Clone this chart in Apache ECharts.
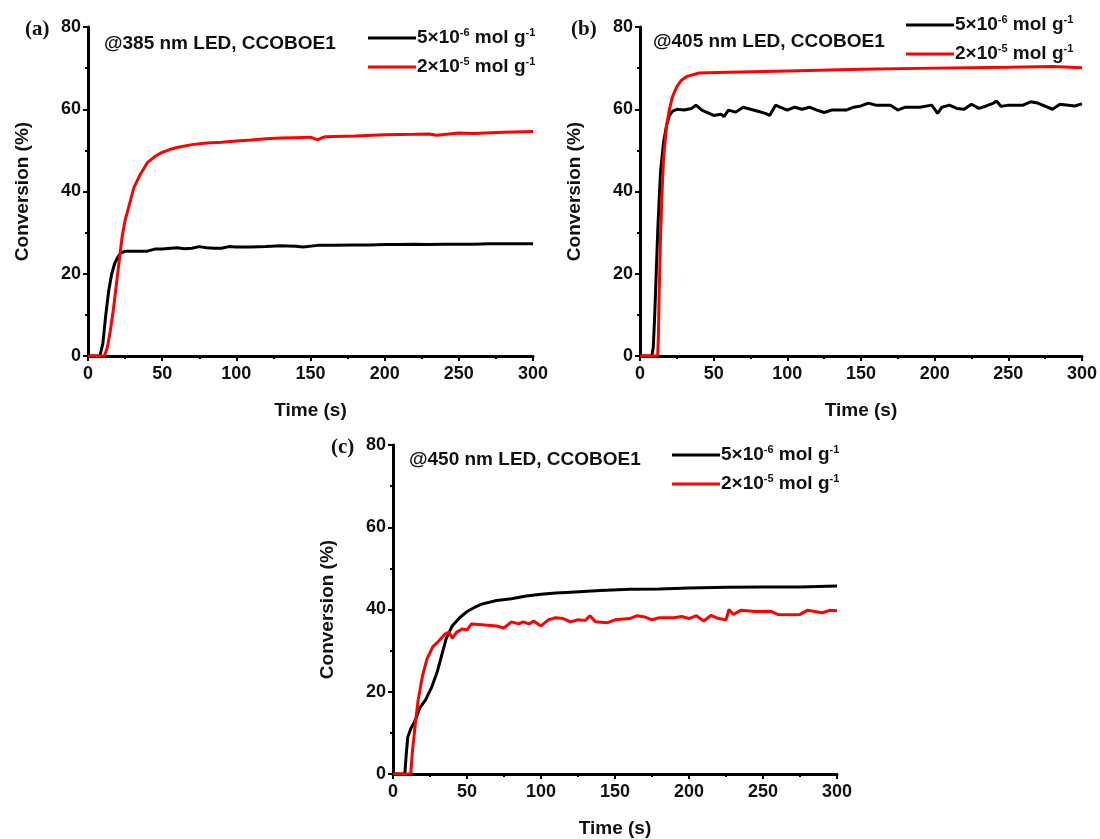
<!DOCTYPE html>
<html><head><meta charset="utf-8">
<script src="https://cdn.jsdelivr.net/npm/echarts@6/dist/echarts.min.js"></script>
<style>html,body{margin:0;padding:0;background:#fff}#c{width:1100px;height:839px}</style>
</head><body><div id="c"></div>
<script>
// ---- data ----
const xTicks = [0, 50, 100, 150, 200, 250, 300];
const yTicks = [0, 20, 40, 60, 80];
const nameLow = '5×10⁻⁶ mol g⁻¹';
const nameHigh = '2×10⁻⁵ mol g⁻¹';

// (a) 385 nm
const tA1 = [0,8,10,12,14,16,18,20,22,25,30,40,45,50,60,65,70,75,80,85,90,95,100,110,120,130,140,145,155,165,180,190,200,210,220,230,240,250,260,270,280,290,300];
const vA1 = [0,0,3,10,16,20,22.5,24,25,25.5,25.5,25.5,26,26,26.3,26.1,26.2,26.6,26.3,26.2,26.2,26.6,26.5,26.5,26.6,26.8,26.7,26.5,26.9,26.9,27,27,27.1,27.1,27.2,27.1,27.2,27.2,27.2,27.3,27.3,27.3,27.3];
const tA2 = [0,11,13,15,17,19,21,23,25,28,31,35,40,45,50,55,60,70,80,90,100,110,120,130,140,150,153,155,158,160,180,200,220,230,235,250,260,280,300];
const vA2 = [0,0,2,6,11,17,23,29,33,37,41,44,47,48.5,49.5,50.2,50.7,51.4,51.8,52,52.3,52.5,52.8,53,53.1,53.2,52.8,52.6,53.1,53.3,53.5,53.8,53.9,54,53.7,54.2,54.1,54.4,54.6];

// (b) 405 nm
const tB1 = [0,8,9,10,11,12,13,14,16,18,20,22,25,30,35,38,42,45,50,55,57,60,65,70,75,80,85,88,92,95,100,105,110,115,120,125,130,140,145,150,155,160,170,175,180,190,198,202,205,210,215,220,225,230,235,240,242,245,250,260,265,270,280,285,295,300];
const vB1 = [0,0,2,10,20,30,38,45,52,56,58.5,59.5,60,59.8,60.2,61,59.8,59.3,58.5,58.8,58.2,59.8,59.3,60.5,60,59.5,59,58.5,61,60.5,59.8,60.5,60,60.5,59.8,59.2,59.8,59.8,60.5,60.8,61.5,61,61,59.8,60.5,60.5,61,59,60.5,61,60.2,60,61.2,60.2,60.8,61.5,62,60.7,61,61,61.8,61.5,60,61.2,60.8,61.3];
const tB2 = [0,12,12.5,13,14,15,16,17,18,20,22,25,28,32,40,60,100,150,200,250,280,300];
const vB2 = [0,0,5,15,30,40,48,52,56,60,63,65.5,67,68,68.8,69,69.3,69.7,70,70.2,70.4,70.1];

// (c) 450 nm
const tC1 = [0,8,9,10,12,15,18,22,26,30,33,36,40,45,50,55,60,70,80,90,100,110,120,140,160,180,200,225,250,275,300];
const vC1 = [0,0,5,9,11,13,16,18,21,25,29,33,36,38,39.5,40.5,41.3,42.2,42.6,43.3,43.7,44,44.2,44.6,44.9,45,45.2,45.4,45.5,45.5,45.7];
const tC2 = [0,12,13,15,17,20,23,27,30,35,38,40,43,47,50,53,60,70,75,80,85,88,92,95,100,105,110,115,120,125,130,133,137,145,150,160,165,170,175,180,190,195,200,205,210,215,220,225,227,230,235,245,255,260,270,275,280,285,290,295,300];
const vC2 = [0,0,5,12,18,24,28,31,32,34,34.5,33,34.5,35.3,35,36.5,36.3,36,35.5,37,36.5,37,36.5,37.2,36,37.5,38,37.8,37,37.5,37.3,38.5,37,36.8,37.5,37.8,38.5,38.2,37.5,38,38,38.3,37.8,38.5,37.2,38.6,37.8,37.5,40,38.8,39.8,39.5,39.6,38.8,38.7,38.8,39.8,39.5,39.2,39.8,39.7];

const pair = (t, v) => t.map((x, i) => [x, v[i]]);

// ---- chart ----
const chart = echarts.init(document.getElementById('c'));
const FONT = 'Liberation Sans, Arial, sans-serif';
const panels = [
  {label: '(a)', note: '@385 nm LED, CCOBOE1', grid: {left: 88, top: 27, width: 445, height: 329},
   labelPos: {left: 20, top: 14}, notePos: {left: 99, top: 29}, legPos: {left: 363, top: 22},
   s1: pair(tA1, vA1), s2: pair(tA2, vA2)},
  {label: '(b)', note: '@405 nm LED, CCOBOE1', grid: {left: 640, top: 27, width: 443, height: 329},
   labelPos: {left: 566, top: 14}, notePos: {left: 648, top: 27}, legPos: {left: 901, top: 9},
   s1: pair(tB1, vB1), s2: pair(tB2, vB2)},
  {label: '(c)', note: '@450 nm LED, CCOBOE1', grid: {left: 393, top: 445, width: 444, height: 329},
   labelPos: {left: 326, top: 432}, notePos: {left: 404, top: 445}, legPos: {left: 667, top: 439},
   s1: pair(tC1, vC1), s2: pair(tC2, vC2)}
];

const option = {
  animation: false,
  backgroundColor: '#fff',
  title: [], grid: [], xAxis: [], yAxis: [], series: [], legend: []
};
const axisCommon = {
  axisLine: {show: true, onZero: false, lineStyle: {color: '#000', width: 3}},
  axisTick: {show: true, inside: false, length: 5, lineStyle: {color: '#000', width: 2}},
  minorTick: {show: true, splitNumber: 2, length: 3, lineStyle: {color: '#000', width: 2}},
  splitLine: {show: false},
  axisLabel: {color: '#111', fontFamily: FONT, fontWeight: 'bold', fontSize: 18},
  nameTextStyle: {color: '#111', fontFamily: FONT, fontWeight: 'bold', fontSize: 19}
};
panels.forEach((p, i) => {
  option.title.push({text: p.label, left: p.labelPos.left, top: p.labelPos.top,
    textStyle: {fontFamily: 'Liberation Serif, DejaVu Serif, serif', fontWeight: 'bold', fontSize: 21, color: '#111'}});
  option.title.push({text: p.note, left: p.notePos.left, top: p.notePos.top,
    textStyle: {fontFamily: FONT, fontWeight: 'bold', fontSize: 19, color: '#111'}});
  option.grid.push(p.grid);
  option.xAxis.push(Object.assign({}, axisCommon, {
    type: 'value', gridIndex: i, min: xTicks[0], max: xTicks[xTicks.length - 1], interval: 50,
    name: 'Time (s)', nameLocation: 'middle', nameGap: 45,
    axisLabel: Object.assign({}, axisCommon.axisLabel, {margin: 9})
  }));
  option.yAxis.push(Object.assign({}, axisCommon, {
    type: 'value', gridIndex: i, min: yTicks[0], max: yTicks[yTicks.length - 1], interval: 20,
    name: 'Conversion (%)', nameLocation: 'middle', nameGap: 56,
    axisLabel: Object.assign({}, axisCommon.axisLabel, {margin: 7})
  }));
  option.series.push({type: 'line', name: nameLow, xAxisIndex: i, yAxisIndex: i, data: p.s1,
    symbol: 'none', lineStyle: {color: '#000', width: 3}, itemStyle: {color: '#000'}});
  option.series.push({type: 'line', name: nameHigh, xAxisIndex: i, yAxisIndex: i, data: p.s2,
    symbol: 'none', lineStyle: {color: '#ff0000', width: 3}, itemStyle: {color: '#ff0000'}});
  option.legend.push({
    left: p.legPos.left, top: p.legPos.top, orient: 'vertical', itemGap: 7,
    itemWidth: 48, itemHeight: 3, icon: 'rect', selectedMode: false,
    data: [nameLow, nameHigh],
    formatter: n => n === nameLow ? '{t|5×10}{s|-6}{t| mol g}{s|-1}' : '{t|2×10}{s|-5}{t| mol g}{s|-1}',
    textStyle: {
      fontFamily: FONT, fontWeight: 'bold', fontSize: 19, color: '#111', padding: [0, 0, 0, -4],
      rich: {
        t: {fontFamily: FONT, fontWeight: 'bold', fontSize: 19, color: '#111', lineHeight: 20},
        s: {fontFamily: FONT, fontWeight: 'bold', fontSize: 11, color: '#111', padding: [0, 0, 11, 0], lineHeight: 20}
      }
    }
  });
});
chart.setOption(option);
</script>
</body></html>
